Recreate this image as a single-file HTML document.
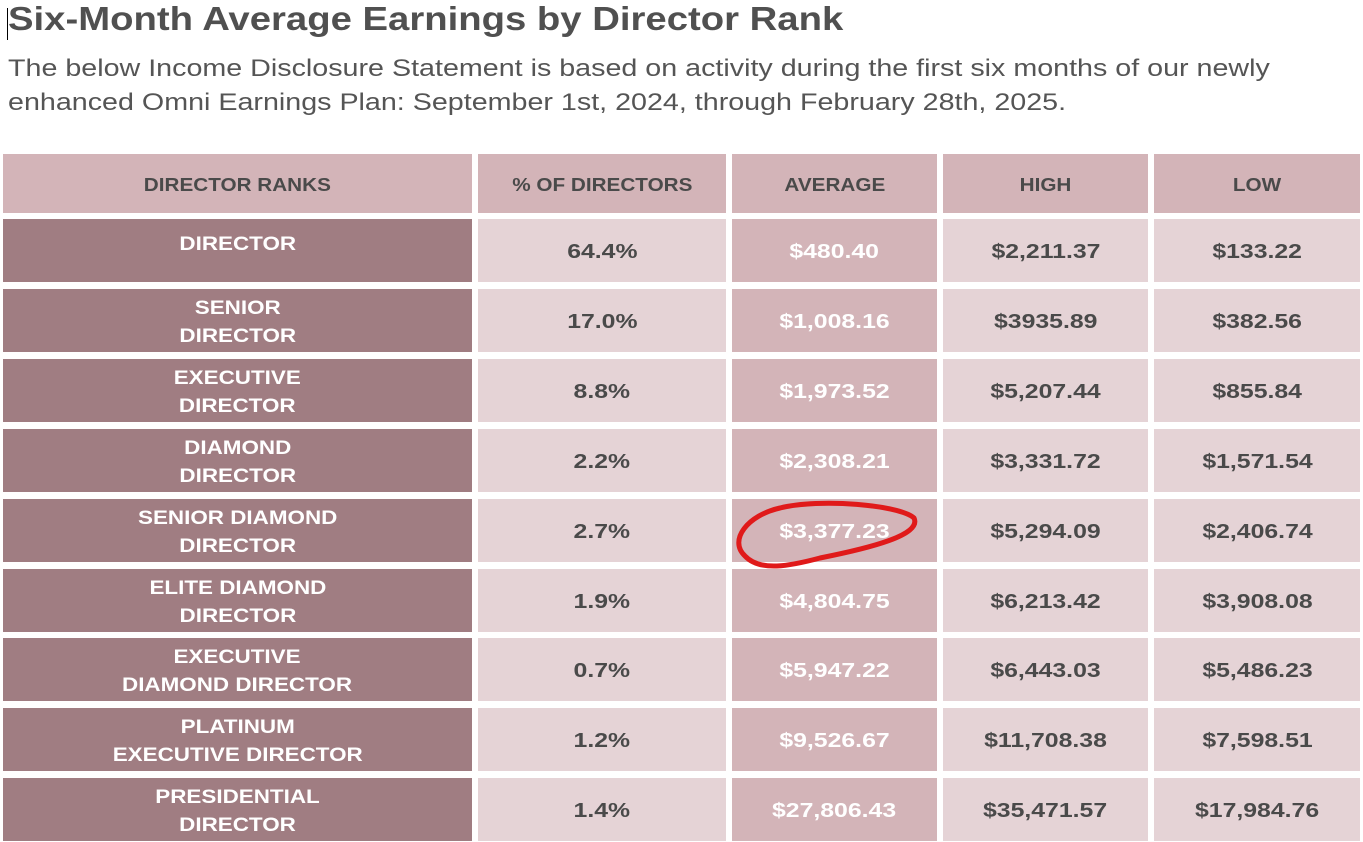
<!DOCTYPE html>
<html><head><style>
body{margin:0;width:1363px;height:842px;background:#fff;position:relative;overflow:hidden;font-family:"Liberation Sans",sans-serif;}
.t{position:absolute;left:8px;top:0px;font-size:33px;font-weight:bold;color:#505050;white-space:nowrap;transform:scaleX(1.16);transform-origin:left;}
.s{position:absolute;left:8px;top:52px;font-size:24.5px;line-height:34px;color:#555;white-space:nowrap;transform:scaleX(1.17);transform-origin:left;}
.c{position:absolute;display:flex;align-items:center;justify-content:center;text-align:center;font-weight:bold;font-size:20px;line-height:28px;box-sizing:border-box;padding-top:2px;}
.c span{display:inline-block;transform:scaleX(1.24);}
.c.h span,.c.r span{transform:scaleX(1.15);}
.h{background:#d3b4b8;color:#4a4a4a;font-size:18px;}
.r{background:#a07d82;color:#fff;font-size:19.5px;}
.l{background:#e5d3d6;color:#4a4a4a;}
.a{background:#d3b4b8;color:#fff;}
</style></head><body>
<div style="position:absolute;left:7px;top:8px;width:1px;height:32px;background:#000"></div>
<div class="t">Six-Month Average Earnings by Director Rank</div>
<div class="s">The below Income Disclosure Statement is based on activity during the first six months of our newly<br>enhanced Omni Earnings Plan: September 1st, 2024, through February 28th, 2025.</div>
<div id="tb"></div>
<svg style="position:absolute;left:0;top:0" width="1363" height="842"><path d="M780 508 C820 498 900 505 914 518 C922 535 870 548 820 558 C790 566 760 572 745 556 C728 540 748 515 780 508 Z" fill="none" stroke="#e01a1a" stroke-width="5"/></svg>
<script>
const X=[[3,469],[478,248],[732,205],[943,205],[1154,206]];
const H=["DIRECTOR RANKS","% OF DIRECTORS","AVERAGE","HIGH","LOW"];
const D=[["DIRECTOR","64.4%","$480.40","$2,211.37","$133.22"],
["SENIOR<br>DIRECTOR","17.0%","$1,008.16","$3935.89","$382.56"],
["EXECUTIVE<br>DIRECTOR","8.8%","$1,973.52","$5,207.44","$855.84"],
["DIAMOND<br>DIRECTOR","2.2%","$2,308.21","$3,331.72","$1,571.54"],
["SENIOR DIAMOND<br>DIRECTOR","2.7%","$3,377.23","$5,294.09","$2,406.74"],
["ELITE DIAMOND<br>DIRECTOR","1.9%","$4,804.75","$6,213.42","$3,908.08"],
["EXECUTIVE<br>DIAMOND DIRECTOR","0.7%","$5,947.22","$6,443.03","$5,486.23"],
["PLATINUM<br>EXECUTIVE DIRECTOR","1.2%","$9,526.67","$11,708.38","$7,598.51"],
["PRESIDENTIAL<br>DIRECTOR","1.4%","$27,806.43","$35,471.57","$17,984.76"]];
let h="";
H.forEach((t,j)=>{h+=`<div class="c h" style="left:${X[j][0]}px;top:154px;width:${X[j][1]}px;height:59px"><span>${t}</span></div>`});
D.forEach((r,i)=>{const y=Math.round(219+i*69.9);r.forEach((t,j)=>{const cl=j==0?"r":j==2?"a":"l";
const st=(j==0&&i==0)?"align-items:flex-start;padding-top:11px;":"";
h+=`<div class="c ${cl}" style="left:${X[j][0]}px;top:${y}px;width:${X[j][1]}px;height:63px;${st}"><span>${t}</span></div>`})});
document.getElementById("tb").innerHTML=h;
</script>
</body></html>
